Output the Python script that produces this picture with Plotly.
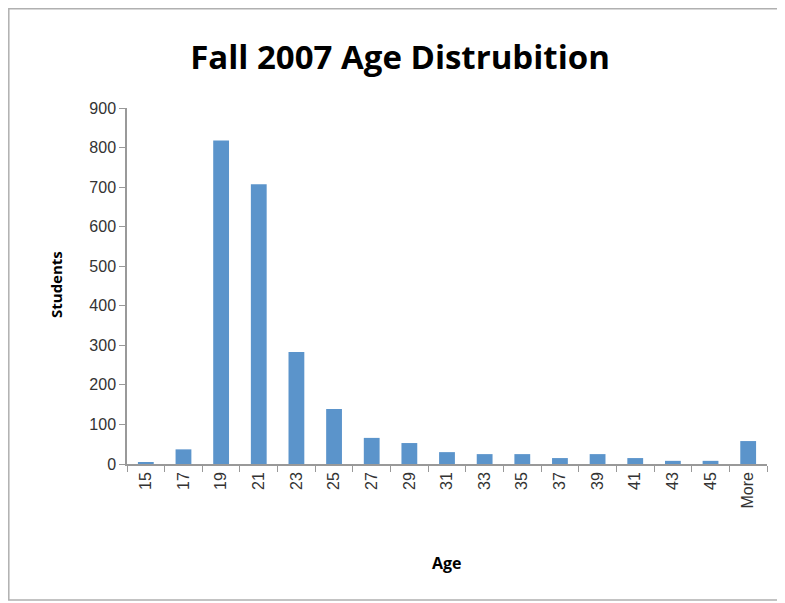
import plotly.graph_objects as go

age_bins = ["15", "17", "19", "21", "23", "25", "27", "29", "31", "33",
            "35", "37", "39", "41", "43", "45", "More"]
students = [3, 37, 818, 707, 283, 139, 66, 53, 30, 25,
            25, 15, 25, 15, 8, 8, 58]

# page has an 8px body margin, so the figure is 8px smaller than the window
W, H = 777, 595
L, R, T, B = 119, 18, 100, 139
PW, PH = W - L - R, H - T - B


def px(page_x):
    return (page_x - 8 - L) / PW


def py(page_y):
    return (H - B - (page_y - 8)) / PH


fig = go.Figure(
    go.Bar(x=age_bins, y=students, marker_color="#5B94CB", marker_line_width=0)
)

fig.update_layout(
    width=W,
    height=H,
    margin=dict(l=L, r=R, t=T, b=B),
    plot_bgcolor="white",
    paper_bgcolor="white",
    bargap=0.58,
    showlegend=False,
    font=dict(family="Liberation Sans, Arial", color="#333"),
    title=dict(
        text="<b>Fall 2007 Age Distrubition</b>",
        x=(400 - 8) / W,
        xanchor="center",
        y=1 - (57 - 8) / H,
        yanchor="middle",
        font=dict(family="Open Sans", size=33, color="black"),
    ),
)

fig.update_xaxes(
    type="category",
    showline=True,
    linecolor="#999",
    linewidth=1.5,
    ticks="outside",
    tickson="boundaries",
    ticklen=6,
    tickcolor="#999",
    tickangle=-90,
    tickfont=dict(size=16),
    showgrid=False,
)
fig.update_yaxes(
    range=[0, 900],
    dtick=100,
    showline=True,
    linecolor="#999",
    linewidth=1.5,
    ticks="outside",
    ticklen=6,
    tickcolor="#999",
    tickfont=dict(size=16),
    showgrid=False,
    zeroline=False,
)

fig.add_annotation(
    text="<b>Students</b>", textangle=-90,
    xref="paper", yref="paper", x=px(56), y=py(285),
    xanchor="center", yanchor="middle",
    showarrow=False, font=dict(family="Open Sans", size=15, color="black"),
)
fig.add_annotation(
    text="<b>Age</b>",
    xref="paper", yref="paper", x=px(447), y=py(563),
    xanchor="center", yanchor="middle",
    showarrow=False, font=dict(family="Open Sans", size=16, color="black"),
)

# outer chart border
fig.add_shape(
    type="rect", xref="paper", yref="paper",
    x0=px(8.8), x1=px(778), y0=py(600), y1=py(8.8),
    line=dict(color="#b0b0b0", width=1.5),
)

fig.write_html("out.html")
